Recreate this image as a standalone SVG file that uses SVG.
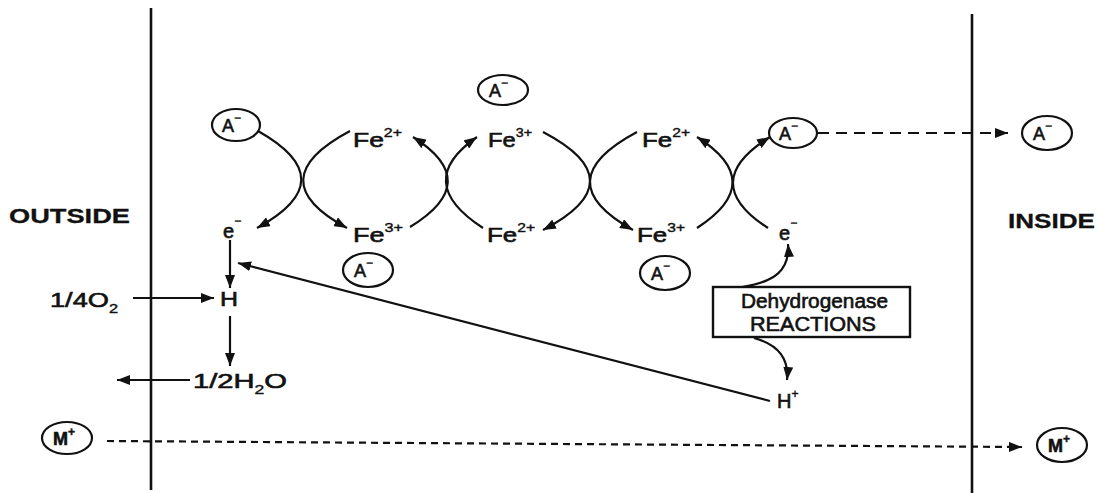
<svg xmlns="http://www.w3.org/2000/svg" width="1102" height="493" viewBox="0 0 1102 493">
<style>
.ln{stroke:#111;stroke-width:2.2;fill:none}
.ar{stroke:#111;stroke-width:2.2;fill:none;marker-end:url(#ah)}
.dash{stroke:#111;stroke-width:2.2;fill:none;stroke-dasharray:11 7;marker-end:url(#ah)}
.dash2{stroke:#111;stroke-width:2.2;fill:none;stroke-dasharray:7 5;marker-end:url(#ah)}
.ring{stroke:#111;stroke-width:2.2;fill:#fff}
.mem{stroke:#111;stroke-width:2.6}
text{font-family:"Liberation Sans",Arial,sans-serif;fill:#111;stroke:#111;stroke-width:0.6}
.lbl{font-size:18px}
.fe{font-size:20px}
.sup{font-size:12px;stroke-width:0.4}
.big{font-size:21px;font-weight:bold;stroke-width:0.3}
</style>
<defs>
<marker id="ah" markerUnits="userSpaceOnUse" markerWidth="14" markerHeight="10" refX="13" refY="5" orient="auto">
<path d="M0,0 L13,5 L0,10 z" fill="#111"/>
</marker>
</defs>
<rect width="1102" height="493" fill="#fff"/>
<g id="membranes">
<line class="mem" x1="151" y1="8" x2="151" y2="490"/>
<line class="mem" x1="972" y1="14" x2="972" y2="493"/>
</g>
<g id="connectors">
<path class="ar" d="M258,131 Q345,180 257,228"/>
<path class="ar" d="M350,131 Q258,180 347,228"/>
<path class="ar" d="M410,227 Q484,182 413,137"/>
<path class="ar" d="M483,228 Q412,182 477,137"/>
<path class="ar" d="M543,132 Q637,181 543,230"/>
<path class="ar" d="M637,132 Q545,181 633,230"/>
<path class="ar" d="M697,228 Q768,182 697,137"/>
<path class="ar" d="M768,228 Q697,182 770,137"/>
<path class="dash" d="M818,133 L1008,133"/>
<path class="dash2" d="M107,441 L1022,447"/>
<path class="ar" d="M230,240 L230,288"/>
<path class="ar" d="M133,298 L214,298"/>
<path class="ar" d="M230,316 L230,366"/>
<path class="ar" d="M190,380 L117,380"/>
<path class="ar" d="M770,401 L238,263"/>
<path class="ar" d="M742,287 C775,282 790,270 788,244"/>
<path class="ar" d="M754,338 C780,345 789,360 787,380"/>
</g>
<g id="outside"><text class="big" x="9" y="223" textLength="121" lengthAdjust="spacingAndGlyphs">OUTSIDE</text></g>
<g id="inside"><text class="big" x="1008" y="228" textLength="87" lengthAdjust="spacingAndGlyphs">INSIDE</text></g>
<g id="a-out"><ellipse class="ring" cx="236" cy="125" rx="24" ry="16"/><text class="lbl" x="222" y="132">A<tspan class="sup" dy="-10">−</tspan></text></g>
<g id="a-top"><ellipse class="ring" cx="503" cy="90" rx="25" ry="15"/><text class="lbl" x="489" y="97">A<tspan class="sup" dy="-10">−</tspan></text></g>
<g id="a-right"><ellipse class="ring" cx="793" cy="133" rx="24" ry="15"/><text class="lbl" x="779" y="140">A<tspan class="sup" dy="-10">−</tspan></text></g>
<g id="a-in"><ellipse class="ring" cx="1047" cy="133" rx="25" ry="17"/><text class="lbl" x="1033" y="140">A<tspan class="sup" dy="-10">−</tspan></text></g>
<g id="a-bot1"><ellipse class="ring" cx="368" cy="270" rx="25" ry="17"/><text class="lbl" x="354" y="277">A<tspan class="sup" dy="-10">−</tspan></text></g>
<g id="a-bot2"><ellipse class="ring" cx="665" cy="273" rx="25" ry="17"/><text class="lbl" x="651" y="280">A<tspan class="sup" dy="-10">−</tspan></text></g>
<g id="fe-t1"><text class="fe" x="353" y="147" textLength="49" lengthAdjust="spacingAndGlyphs">Fe<tspan class="sup" dy="-10">2+</tspan></text></g>
<g id="fe-b1"><text class="fe" x="353" y="242" textLength="50" lengthAdjust="spacingAndGlyphs">Fe<tspan class="sup" dy="-10">3+</tspan></text></g>
<g id="fe-t2"><text class="fe" x="488" y="147" textLength="44" lengthAdjust="spacingAndGlyphs">Fe<tspan class="sup" dy="-10">3+</tspan></text></g>
<g id="fe-b2"><text class="fe" x="487" y="242" textLength="48" lengthAdjust="spacingAndGlyphs">Fe<tspan class="sup" dy="-10">2+</tspan></text></g>
<g id="fe-t3"><text class="fe" x="642" y="147" textLength="48" lengthAdjust="spacingAndGlyphs">Fe<tspan class="sup" dy="-10">2+</tspan></text></g>
<g id="fe-b3"><text class="fe" x="637" y="242" textLength="48" lengthAdjust="spacingAndGlyphs">Fe<tspan class="sup" dy="-10">3+</tspan></text></g>
<g id="e-out"><text class="fe" x="223" y="238">e<tspan class="sup" dy="-13">−</tspan></text></g>
<g id="e-in"><text class="fe" x="779" y="240">e<tspan class="sup" dy="-13">−</tspan></text></g>
<g id="h"><text class="fe" x="220" y="306" textLength="18" lengthAdjust="spacingAndGlyphs">H</text></g>
<g id="o2"><text class="fe" x="50" y="307" textLength="68" lengthAdjust="spacingAndGlyphs">1/4O<tspan class="sup" dy="6">2</tspan></text></g>
<g id="h2o"><text class="fe" x="193" y="388" textLength="94" lengthAdjust="spacingAndGlyphs">1/2H<tspan class="sup" dy="6">2</tspan><tspan dy="-6">O</tspan></text></g>
<g id="hplus"><text class="fe" x="777" y="408">H<tspan class="sup" dy="-10">+</tspan></text></g>
<g id="dehydrogenase">
<rect x="713" y="287" width="197" height="50" fill="#fff" stroke="#111" stroke-width="2.4"/>
<text class="fe" x="741" y="308" textLength="147" lengthAdjust="spacingAndGlyphs">Dehydrogenase</text>
<text class="fe" x="750" y="331" textLength="126" lengthAdjust="spacingAndGlyphs">REACTIONS</text>
</g>
<g id="m-out"><ellipse class="ring" cx="67" cy="438" rx="25" ry="16"/><text class="lbl" font-weight="bold" x="53" y="445">M<tspan class="sup" dy="-9">+</tspan></text></g>
<g id="m-in"><ellipse class="ring" cx="1062" cy="445" rx="25" ry="17"/><text class="lbl" font-weight="bold" x="1048" y="452">M<tspan class="sup" dy="-9">+</tspan></text></g>
</svg>
